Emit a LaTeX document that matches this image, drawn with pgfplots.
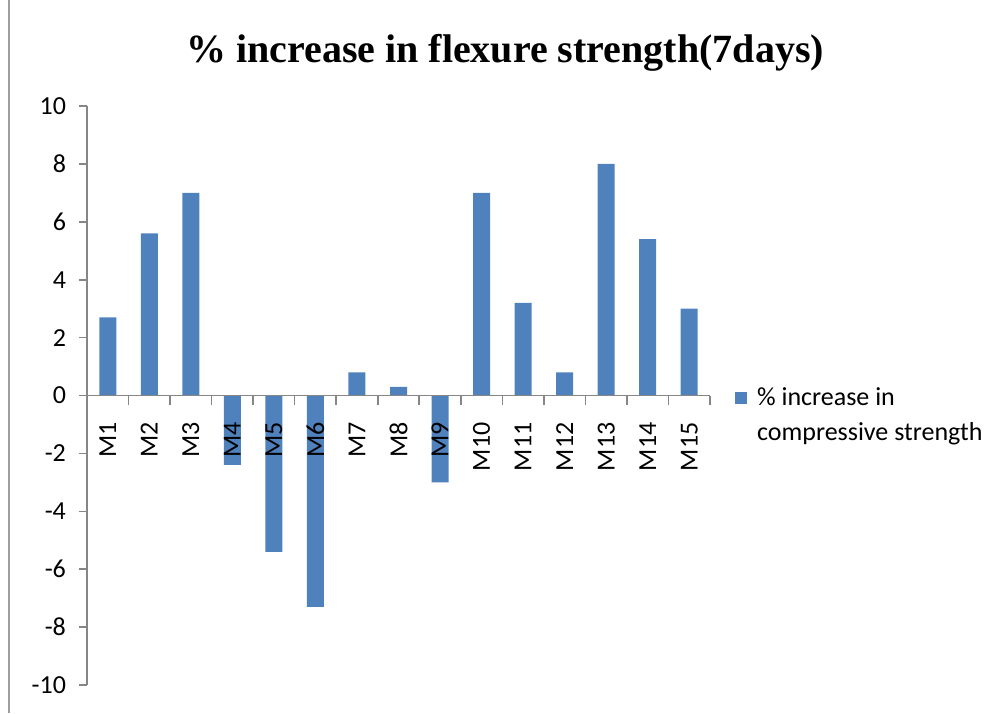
\documentclass[border=0pt]{standalone}
\usepackage{pgfplots}
\pgfplotsset{compat=1.18}
\usepackage{fontspec}
\setmainfont{Carlito}
\newfontfamily\titlefont{Liberation Serif}
\definecolor{barblue}{HTML}{4F81BD}
\definecolor{axgray}{HTML}{868686}
\begin{document}
\begin{tikzpicture}
\useasboundingbox (0,0) rectangle (497pt,356.5pt);
\draw[color=axgray!80, line width=1pt] (4.5pt,0) -- (4.5pt,356.5pt);
\node[font=\titlefont\bfseries\fontsize{20}{24}\selectfont] at (252.5pt,330pt) {\% increase in flexure strength(7days)};
\begin{axis}[
  at={(43.5pt,14pt)}, anchor=south west,
  scale only axis, width=311.5pt, height=289.5pt,
  axis on top,
  ybar, bar width=8.5pt,
  xmin=0.5, xmax=15.5, ymin=-10, ymax=10,
  xtick={1,...,15},
  xticklabels={M1,M2,M3,M4,M5,M6,M7,M8,M9,M10,M11,M12,M13,M14,M15},
  minor xtick={0.5,1.5,...,15.5},
  ytick={-10,-8,...,10},
  yticklabels={-10,-8,-6,-4,-2,0,2,4,6,8,10},
  axis y line*=left, axis x line*=middle,
  tick align=outside,
  major tick length=4pt, minor tick length=4.5pt,
  major x tick style={draw=none},
  minor x tick style={draw=axgray, line width=0.8pt},
  y tick style={draw=axgray, line width=0.8pt},
  axis line style={draw=axgray, line width=0.8pt, -},
  ticklabel style={font=\fontsize{13}{15}\selectfont},
  xticklabel style={rotate=90, anchor=east, xshift=-6pt},
  yticklabel style={xshift=-3pt},
  legend style={at={(1.03,0.465)}, anchor=west, draw=none, fill=none,
    font=\fontsize{13}{17.5}\selectfont,
    nodes={align=left},
    /tikz/every odd column/.append style={column sep=3pt}},
  legend cell align=left,
  legend image code/.code={\fill[barblue] (0pt,5.75pt) rectangle (6pt,11.75pt);},
]
\addplot[fill=barblue, draw=none] coordinates {
(1,2.7) (2,5.6) (3,7) (4,-2.4) (5,-5.4) (6,-7.3) (7,0.8) (8,0.3)
(9,-3) (10,7) (11,3.2) (12,0.8) (13,8) (14,5.4) (15,3)};
\addlegendentry{\% increase in\\compressive strength}
\end{axis}
\end{tikzpicture}
\end{document}
